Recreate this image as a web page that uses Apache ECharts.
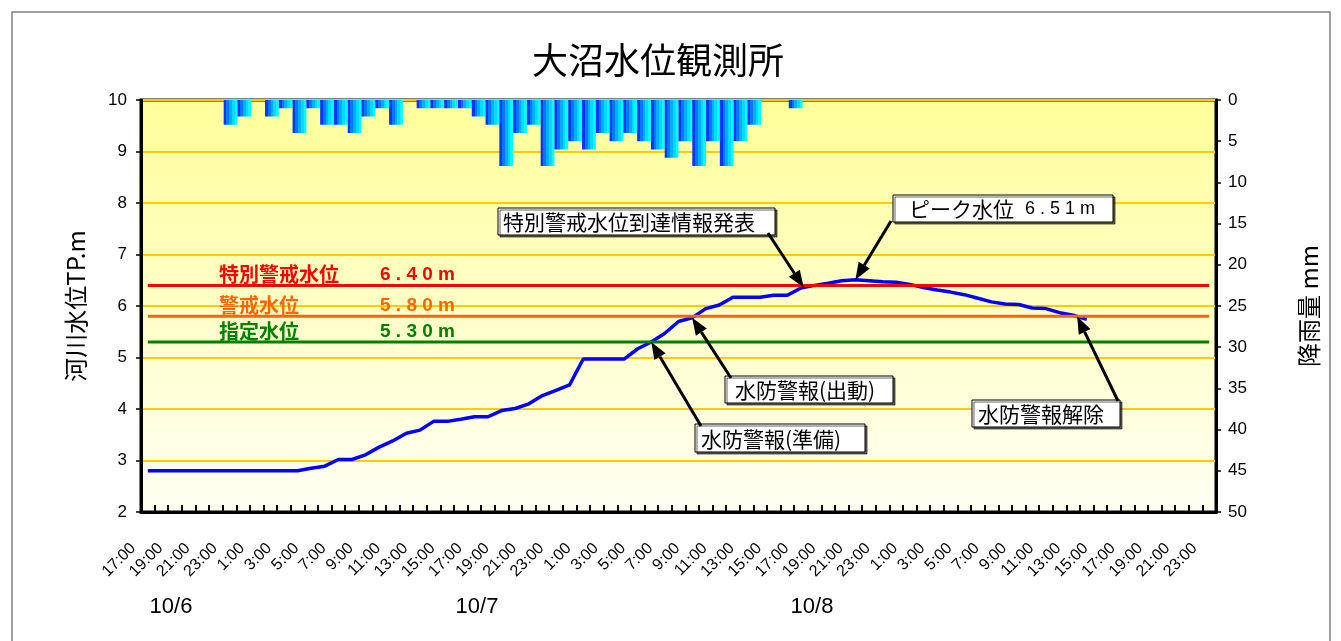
<!DOCTYPE html>
<html>
<head>
<meta charset="utf-8">
<script src="https://cdn.jsdelivr.net/npm/echarts/dist/echarts.min.js"></script>
<style>html,body{margin:0;padding:0;background:#fff;}#c{width:1341px;height:641px;}</style>
</head>
<body>
<div id="c"></div>
<script>
// ---------- data ----------
const hours = [
  '17:00','18:00','19:00','20:00','21:00','22:00','23:00',
  '0:00','1:00','2:00','3:00','4:00','5:00','6:00','7:00','8:00','9:00','10:00','11:00',
  '12:00','13:00','14:00','15:00','16:00','17:00','18:00','19:00','20:00','21:00','22:00','23:00',
  '0:00','1:00','2:00','3:00','4:00','5:00','6:00','7:00','8:00','9:00','10:00','11:00',
  '12:00','13:00','14:00','15:00','16:00','17:00','18:00','19:00','20:00','21:00','22:00','23:00',
  '0:00','1:00','2:00','3:00','4:00','5:00','6:00','7:00','8:00','9:00','10:00','11:00',
  '12:00','13:00','14:00','15:00','16:00','17:00','18:00','19:00','20:00','21:00','22:00','23:00'
];
const rainHours = hours.slice(1);
const tickLabels = [
  '17:00','19:00','21:00','23:00',
  '1:00','3:00','5:00','7:00','9:00','11:00','13:00','15:00','17:00','19:00','21:00','23:00',
  '1:00','3:00','5:00','7:00','9:00','11:00','13:00','15:00','17:00','19:00','21:00','23:00',
  '1:00','3:00','5:00','7:00','9:00','11:00','13:00','15:00','17:00','19:00','21:00','23:00'
];
const dateLabels = ['10/6','10/7','10/8'];
const waterLevel = [
  2.8,2.8,2.8,2.8,2.8,2.8,2.8,2.8,2.8,2.8,2.8,2.8,
  2.85,2.89,3.02,3.02,3.11,3.26,3.38,3.53,3.59,3.76,3.76,3.8,3.85,3.85,3.97,4.01,4.1,
  4.26,4.36,4.47,4.97,4.97,4.97,4.97,5.17,5.3,5.47,5.7,5.77,5.95,6.02,6.17,6.17,6.17,
  6.21,6.21,6.35,6.4,6.44,6.49,6.51,6.49,6.47,6.46,6.42,6.36,6.31,6.27,6.22,6.15,
  6.08,6.04,6.03,5.96,5.95,5.87,5.82,5.74
];
const rain = [
  0,0,0,0,0,0,3,2,0,2,1,4,1,3,3,4,2,1,3,0,1,1,1,1,2,3,8,4,3,8,6,5,6,4,5,4,5,6,7,5,8,5,8,5,3,0,0,1
];
const thresholdNames = ['特別警戒水位','警戒水位','指定水位'];
const thresholdValues = [6.4, 5.8, 5.3];
const thresholdTexts = ['6 . 4 0 m','5 . 8 0 m','5 . 3 0 m'];
const calloutTexts = ['特別警戒水位到達情報発表','ピーク水位','水防警報(出動)','水防警報(準備)','水防警報解除'];
const calloutValues = ['','6 . 5 1 m','','',''];
const calloutTargets = [48.2, 52, 40, 37, 68.3];

// ---------- layout / style ----------
const thresholdColors = ['#FF0000','#FF6600','#008000'];
const calloutBoxes = [[498,208,277,27],[893,195,220,27],[725,376,168,27],[695,424,170,28],[972,400,148,27]];
const calloutTextPad = [5,16,10,6,6];
const calloutStarts = [[768,233],[891,221],[731,378],[701,426],[1118,401]];
const datePos = [171, 477, 812];
const jp = '"Noto Sans CJK JP", sans-serif';
const lat = '"Liberation Sans", Arial, sans-serif';

const boundaryLabels = [];
tickLabels.forEach(l => { boundaryLabels.push(l, ''); });

const barBands = ['#0038FF','#0078FF','#00AEFF','#00DCFF','#00FFFF'];
const barStops = [];
barBands.forEach((c, i) => {
  barStops.push({ offset: i / barBands.length, color: c });
  barStops.push({ offset: (i + 1) / barBands.length - 0.0001, color: c });
});

const chart = echarts.init(document.getElementById('c'));
const option = {
  animation: false,
  backgroundColor: '#ffffff',
  textStyle: { fontFamily: lat },
  title: {
    text: '大沼水位観測所', left: 527, top: 37,
    textStyle: { fontFamily: jp, fontSize: 36, fontWeight: 'normal', color: '#000' }
  },
  grid: {
    left: 141, right: 125, top: 100, bottom: 129,
    show: true, borderColor: '#000', borderWidth: 3,
    outerBoundsMode: 'none',
    backgroundColor: new echarts.graphic.LinearGradient(0, 0, 0, 1, [
      { offset: 0, color: '#FFFF99' }, { offset: 1, color: '#FFFFF4' }
    ])
  },
  xAxis: [
    { type: 'category', data: hours, boundaryGap: true, position: 'bottom',
      axisLine: { onZero: false, lineStyle: { color: '#000', width: 3 } },
      axisTick: { show: true, interval: 0, inside: true, length: 7, lineStyle: { color: '#000', width: 2 } },
      axisLabel: { show: false }, splitLine: { show: false } },
    { type: 'category', data: boundaryLabels, boundaryGap: false, position: 'bottom',
      axisLine: { show: false, onZero: false }, axisTick: { show: false }, splitLine: { show: false },
      axisLabel: { interval: 0, rotate: 45, margin: 26, padding: [0, 11, 0, 0], fontSize: 16, color: '#000', fontFamily: lat } },
    { type: 'category', data: rainHours, boundaryGap: true, position: 'top', show: false,
      axisLine: { show: false, onZero: false }, axisTick: { show: false }, axisLabel: { show: false } },
    { type: 'value', min: -0.5, max: 78.5, show: false, position: 'top',
      axisLine: { show: false, onZero: false }, axisTick: { show: false }, axisLabel: { show: false }, splitLine: { show: false } }
  ],
  yAxis: [
    { type: 'value', min: 2, max: 10, interval: 1, position: 'left',
      axisLine: { show: true, onZero: false, lineStyle: { color: '#000', width: 3 } },
      axisTick: { show: true, length: 5, lineStyle: { color: '#000', width: 1.5 } },
      axisLabel: { fontSize: 17, color: '#000', margin: 14, fontFamily: lat },
      splitLine: { show: true, lineStyle: { color: '#FFCC00', width: 2 } },
      name: '河川水位TP.m', nameLocation: 'middle', nameRotate: 90, nameGap: 53,
      nameTextStyle: { fontSize: 24, color: '#000', fontFamily: jp } },
    { type: 'value', min: 0, max: 50, interval: 5, inverse: true, position: 'right',
      axisLine: { show: true, onZero: false, lineStyle: { color: '#000', width: 3 } },
      axisTick: { show: true, length: 5, lineStyle: { color: '#000', width: 1.5 } },
      axisLabel: { fontSize: 17, color: '#000', margin: 12, fontFamily: lat },
      splitLine: { show: false },
      name: '降雨量 mm', nameLocation: 'middle', nameRotate: 90, nameGap: 81,
      nameTextStyle: { fontSize: 24, color: '#000', fontFamily: jp } }
  ],
  series: [
    { type: 'bar', name: '降雨量', xAxisIndex: 2, yAxisIndex: 1, data: rain,
      barWidth: '100%', barCategoryGap: '0%', z: 2,
      itemStyle: { color: new echarts.graphic.LinearGradient(0, 0, 1, 0, barStops) } },
    { type: 'line', name: '水位', xAxisIndex: 0, yAxisIndex: 0, data: waterLevel,
      showSymbol: false, symbol: 'none', z: 3,
      lineStyle: { color: '#0000FF', width: 3.5 } }
  ].concat(thresholdValues.map((v, i) => ({
    type: 'line', name: thresholdNames[i], xAxisIndex: 3, yAxisIndex: 0,
    data: [[0, v], [78, v]], symbol: 'none', z: 4,
    lineStyle: { color: thresholdColors[i], width: 3 }
  })))
};
chart.setOption(option);

function px(x, y) { return chart.convertToPixel({ xAxisIndex: 3, yAxisIndex: 0 }, [x, y]); }
function arrow(x0, y0, x1, y1) {
  const dx = x1 - x0, dy = y1 - y0, L = Math.hypot(dx, dy), ux = dx / L, uy = dy / L;
  const hl = 17, hw = 6.5, bx = x1 - ux * hl, by = y1 - uy * hl;
  return [
    { type: 'line', z: 100, shape: { x1: x0, y1: y0, x2: bx, y2: by }, style: { stroke: '#000', lineWidth: 3 } },
    { type: 'polygon', z: 100, shape: { points: [[x1, y1], [bx - uy * hw, by + ux * hw], [bx + uy * hw, by - ux * hw]] }, style: { fill: '#000' } }
  ];
}
const g = [];
g.push({ type: 'rect', z: 0, shape: { x: 12, y: 12, width: 1318, height: 660 }, style: { fill: 'none', stroke: '#808080', lineWidth: 1.5 } });
dateLabels.forEach((d, i) => {
  g.push({ type: 'text', z: 100, x: datePos[i], y: 607, style: { text: d, font: '22px ' + lat, fill: '#000', align: 'center', verticalAlign: 'middle' } });
});
thresholdValues.forEach((v, i) => {
  const p = px(0, v);
  g.push({ type: 'text', z: 100, x: 219, y: p[1] - 1, style: { text: thresholdNames[i], font: 'bold 20px ' + jp, fill: thresholdColors[i], align: 'left', verticalAlign: 'bottom' } });
  g.push({ type: 'text', z: 100, x: 380, y: p[1] - 1, style: { text: thresholdTexts[i], font: 'bold 19px ' + lat, fill: thresholdColors[i], align: 'left', verticalAlign: 'bottom' } });
});
calloutTexts.forEach((t, i) => {
  const b = calloutBoxes[i];
  g.push({ type: 'rect', z: 99, shape: { x: b[0], y: b[1], width: b[2], height: b[3] }, style: { fill: '#fff', stroke: '#000', lineWidth: 1, shadowColor: 'rgba(0,0,0,0.6)', shadowOffsetX: 2, shadowOffsetY: 2 } });
  g.push({ type: 'text', z: 100, x: b[0] + calloutTextPad[i], y: b[1] + b[3] / 2 + 1, style: { text: t, font: '21px ' + jp, fill: '#000', align: 'left', verticalAlign: 'middle' } });
  if (calloutValues[i]) {
    g.push({ type: 'text', z: 100, x: b[0] + 132, y: b[1] + b[3] / 2 + 1, style: { text: calloutValues[i], font: '18px ' + lat, fill: '#000', align: 'left', verticalAlign: 'middle' } });
  }
  const k = calloutTargets[i], f = Math.floor(k), tt = k - f;
  const nxt = waterLevel[f + 1] !== undefined ? waterLevel[f + 1] : waterLevel[f];
  const lv = waterLevel[f] + (nxt - waterLevel[f]) * tt;
  const tip = px(k, lv);
  arrow(calloutStarts[i][0], calloutStarts[i][1], tip[0], tip[1]).forEach(e => g.push(e));
});
chart.setOption({ graphic: g });
</script>
</body>
</html>
